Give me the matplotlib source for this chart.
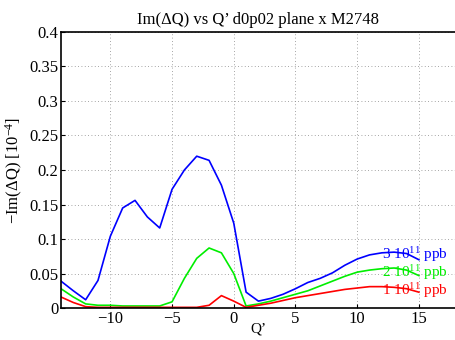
import numpy as np
import matplotlib
matplotlib.use('Agg')
import matplotlib.pyplot as plt

plt.rcParams['font.family'] = ['Liberation Serif', 'DejaVu Serif']
plt.rcParams['mathtext.fontset'] = 'custom'
plt.rcParams['mathtext.rm'] = 'Liberation Serif'
plt.rcParams['mathtext.it'] = 'Liberation Serif:italic'

qp = list(range(-14, 16))
im_3e11 = [0.039, 0.025, 0.012, 0.040, 0.104, 0.145, 0.156, 0.132, 0.116, 0.172,
           0.200, 0.220, 0.214, 0.178, 0.123, 0.023, 0.010, 0.014, 0.020, 0.028,
           0.037, 0.043, 0.051, 0.062, 0.071, 0.077, 0.080, 0.081, 0.079, 0.070]
im_2e11 = [0.028, 0.016, 0.006, 0.004, 0.004, 0.003, 0.003, 0.003, 0.003, 0.009,
           0.043, 0.072, 0.087, 0.080, 0.050, 0.003, 0.006, 0.010, 0.015, 0.020,
           0.025, 0.032, 0.039, 0.046, 0.052, 0.055, 0.057, 0.058, 0.055, 0.047]
im_1e11 = [0.016, 0.008, 0.002, 0.001, 0.001, 0.001, 0.001, 0.001, 0.001, 0.001,
           0.001, 0.001, 0.004, 0.018, 0.010, 0.001, 0.004, 0.007, 0.011, 0.015,
           0.018, 0.021, 0.024, 0.027, 0.029, 0.031, 0.031, 0.030, 0.028, 0.023]
series = [(im_3e11, 'b', '3 10$^{11}$ ppb', 0.077),
          (im_2e11, '#00ee00', '2 10$^{11}$ ppb', 0.052),
          (im_1e11, 'r', '1 10$^{11}$ ppb', 0.026)]

fig = plt.figure(figsize=(4.55, 3.4), dpi=100)
ax = fig.add_axes([0.134, 0.094, 0.868, 0.812])
for vals, col, lab, ly in series:
    ax.plot(qp, vals, color=col, lw=1.2)
    ax.text(12.0, ly, lab, color=col, fontsize=11, va='center')

ax.set_xlim(-14, 18)
ax.set_ylim(0, 0.4)
ax.set_xticks([-10, -5, 0, 5, 10, 15])
ax.set_yticks(np.arange(0, 0.41, 0.05))
ax.set_yticklabels(['0', '0.05', '0.1', '0.15', '0.2', '0.25', '0.3', '0.35', '0.4'])
ax.grid(True, linestyle=(0, (1, 3)), color='#888888', lw=0.6)
ax.tick_params(direction='in', labelsize=12, length=3, pad=2)
for s in ax.spines.values():
    s.set_linewidth(1.2)
ax.set_xlabel('Q’', fontsize=11, labelpad=-3)
ax.set_ylabel('−Im(ΔQ) [10$^{-4}$]', fontsize=12, labelpad=3)
ax.set_title('Im(ΔQ) vs Q’ d0p02 plane x M2748', fontsize=12, pad=6)

fig.savefig('out.png', dpi=100)
